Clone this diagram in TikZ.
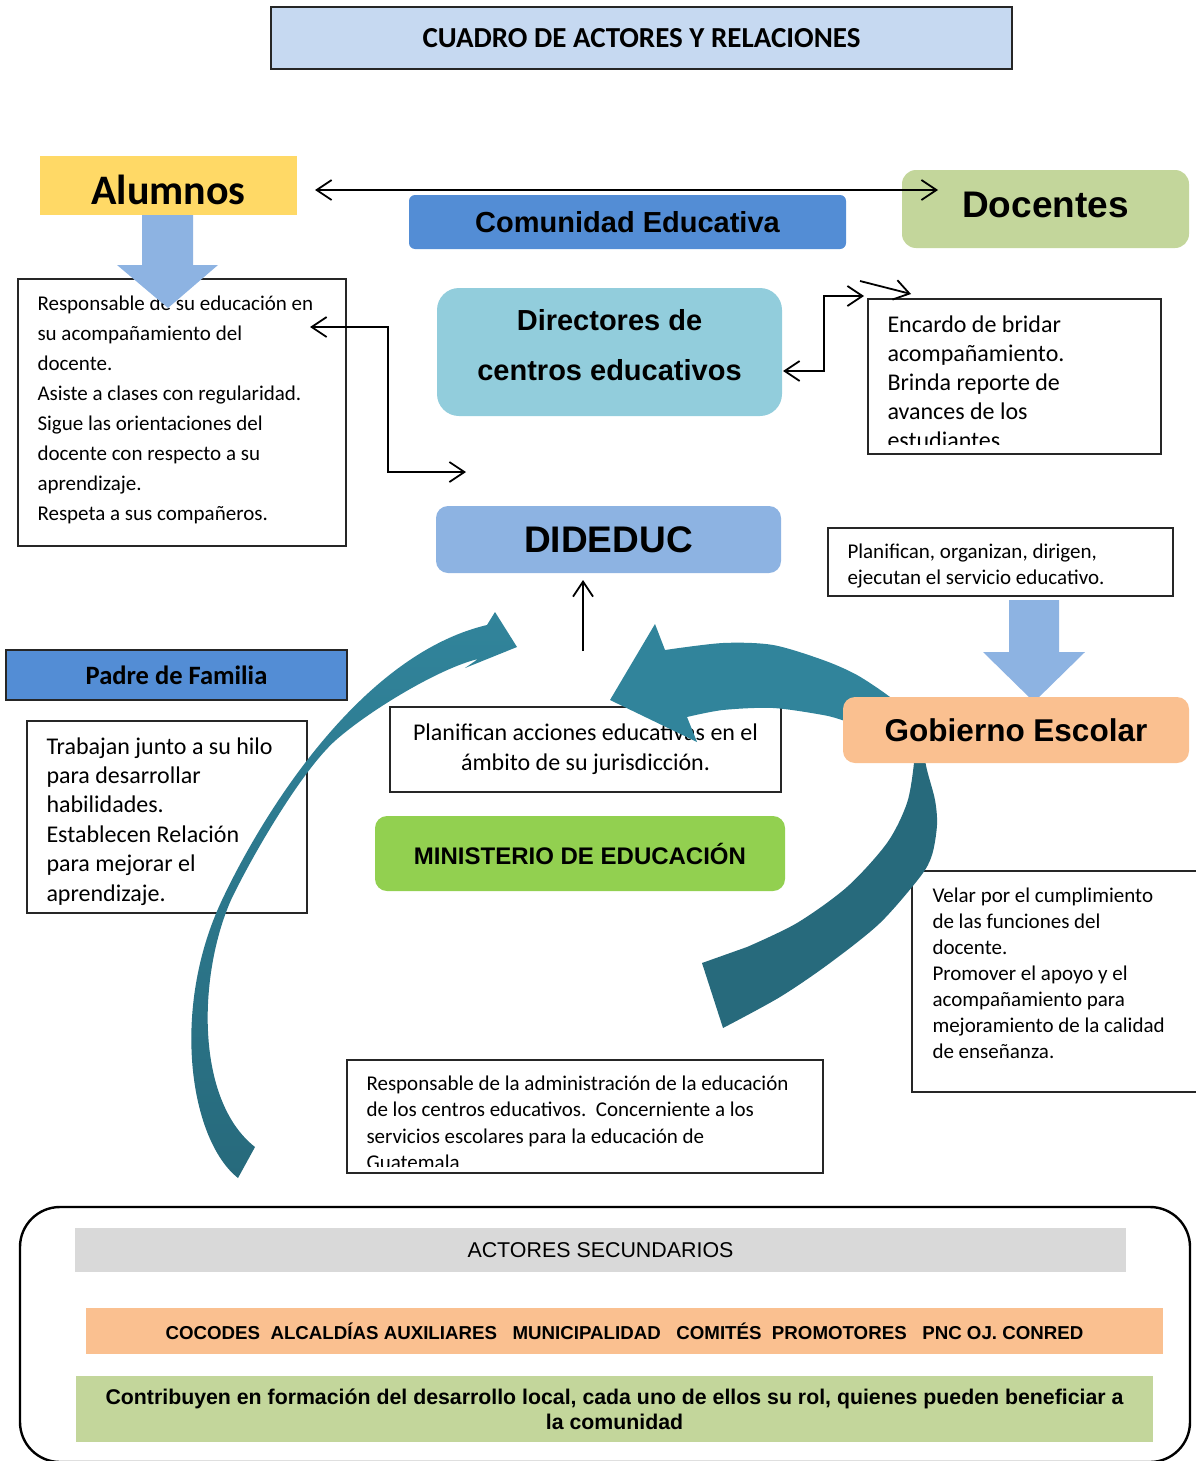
\documentclass[tikz,border=0pt]{standalone}
\usepackage{fontspec}
\setmainfont{Carlito}
\newfontfamily\arialfont{Liberation Sans}
\usetikzlibrary{arrows.meta,positioning}

\definecolor{titlefill}{HTML}{C6D9F1}
\definecolor{alumfill}{HTML}{FFD966}
\definecolor{oliveback}{HTML}{C3D69B}
\definecolor{midblue}{HTML}{538DD5}
\definecolor{aquafill}{HTML}{92CDDC}
\definecolor{paleblue}{HTML}{8DB3E2}
\definecolor{peach}{HTML}{FAC090}
\definecolor{limefill}{HTML}{92D050}
\definecolor{greyfill}{HTML}{D9D9D9}
\definecolor{curvelight}{HTML}{31849B}
\definecolor{curvedark}{HTML}{276A7C}

\newcommand\fsz[2]{\fontsize{#1}{#2}\selectfont}

\begin{document}
\begin{tikzpicture}[x=1pt,y=-1pt,>={Straight Barb[length=15pt,width=20pt]},
    actor/.style={inner sep=0pt,align=center},
    round actor/.style={actor,rounded corners=12pt},
    txt box/.style={draw=black!85,line width=1.4pt,inner sep=0pt},
    txt/.style={inner sep=0pt,align=left},
    conn/.style={line width=1.8pt},
    block arrow/.style={fill=paleblue}]
\useasboundingbox (0,0) rectangle (1196,1461);

% cabecera
\node[actor,fill=titlefill,draw=black!85,line width=1.4pt,minimum width=741pt,minimum height=62pt,font=\fsz{29}{34}\bfseries] (title) at (641.5,38) {CUADRO DE ACTORES Y RELACIONES};

% actores principales
\node[actor,fill=alumfill,minimum width=257pt,minimum height=59pt,font=\fsz{42}{50}\bfseries] (alum) at (168.5,185.5) {\rule{0pt}{39pt}Alumnos};
\node[round actor,rounded corners=14pt,fill=oliveback,minimum width=287pt,minimum height=78pt,font=\arialfont\bfseries\fsz{37}{44}] (doc) at (1045.5,209) {Docentes\rule[-8pt]{0pt}{8pt}};
\node[round actor,rounded corners=6pt,fill=midblue,minimum width=437pt,minimum height=54pt,font=\arialfont\bfseries\fsz{29}{34}] (comu) at (627.5,222) {Comunidad Educativa};
\node[round actor,rounded corners=22pt,fill=aquafill,minimum width=345pt,minimum height=128pt,font=\arialfont\bfseries\fsz{29}{50}] (dir) at (609.5,352) {Directores de\\centros educativos\rule[-14pt]{0pt}{14pt}};
\node[round actor,fill=paleblue,minimum width=345pt,minimum height=67pt,font=\arialfont\bfseries\fsz{37}{44}] (dided) at (608.5,539.5) {DIDEDUC};

% cuadros de texto
\node[txt box,minimum width=328pt,minimum height=267pt] (alumbox) at (182,412.5) {};
\node[txt,font=\fsz{21}{30},below right=17pt and 20pt of alumbox.north west] (alumtxt) {Responsable de su educación en\\su acompañamiento del\\docente.\\Asiste a clases con regularidad.\\Sigue las orientaciones del\\docente con respecto a su\\aprendizaje.\\Respeta a sus compañeros.};

\node[txt box,minimum width=293pt,minimum height=155pt] (encbox) at (1014.5,376.5) {};
\begin{scope}
  \clip (869,300) rectangle (1160,444);
  \node[txt,font=\fsz{24}{29},below right=17pt and 20pt of encbox.north west] (enctxt) {Encardo de bridar\\acompañamiento.\\Brinda reporte de\\avances de los\\estudiantes};
\end{scope}

\node[txt box,minimum width=345pt,minimum height=68pt] (planbox) at (1000.5,562) {};
\node[txt,font=\fsz{21}{26},below right=16pt and 20pt of planbox.north west] (plantxt) {Planifican, organizan, dirigen,\\ejecutan el servicio educativo.};

\node[actor,fill=midblue,draw=black!85,line width=1.4pt,minimum width=341pt,minimum height=50pt,font=\fsz{26.5}{30}\bfseries] (padre) at (176.5,675) {Padre de Familia};
\node[txt box,minimum width=280pt,minimum height=192pt] (padrebox) at (167,817) {};
\node[txt,font=\fsz{24}{29.4},below right=17pt and 20pt of padrebox.north west] (padretxt) {Trabajan junto a su hilo\\para desarrollar\\habilidades.\\Establecen Relación\\para mejorar el\\aprendizaje.};

\node[txt box,align=center,minimum width=391pt,minimum height=85pt,font=\fsz{24}{30}] (accbox) at (585.5,749.5) {Planifican acciones educativas en el\\ámbito de su jurisdicción.};

\node[round actor,fill=limefill,minimum width=410pt,minimum height=75pt,font=\arialfont\bfseries\fsz{24}{28}] (mine) at (580,853.5) {MINISTERIO DE EDUCACIÓN};

\node[txt box,minimum width=300pt,minimum height=221pt] (velarbox) at (1062,981.5) {};
\node[txt,font=\fsz{21}{26},below right=17pt and 21pt of velarbox.north west] (velartxt) {Velar por el cumplimiento\\de las funciones del\\docente.\\Promover el apoyo y el\\acompañamiento para\\mejoramiento de la calidad\\de enseñanza.};

\node[txt box,minimum width=476pt,minimum height=113pt] (adminbox) at (585,1116.5) {};
\begin{scope}
  \clip (348,1061) rectangle (822,1166);
  \node[txt,font=\fsz{21}{26.3},below right=16.5pt and 20pt of adminbox.north west] (admintxt) {Responsable de la administración de la educación\\de los centros educativos.\ \ Concerniente a los\\servicios escolares para la educación de\\Guatemala};
\end{scope}

% actores secundarios
\node[draw=black,line width=2.4pt,rounded corners=40pt,minimum width=1170pt,minimum height=255pt] (sec) at (605,1334.5) {};
\node[actor,fill=greyfill,minimum width=1051pt,minimum height=44pt,font=\arialfont\fsz{21.4}{25}] (secttl) at (600.5,1250) {ACTORES SECUNDARIOS};
\node[actor,fill=peach,minimum width=1077pt,minimum height=46pt,font=\arialfont\bfseries\fsz{18.7}{22}] (seclist) at (624.5,1331) {COCODES\ \ ALCALDÍAS AUXILIARES\ \ \ MUNICIPALIDAD\ \ \ COMITÉS\ \ PROMOTORES\ \ \ PNC OJ. CONRED};
\node[actor,fill=oliveback,minimum width=1077pt,minimum height=66pt,font=\arialfont\bfseries\fsz{21.3}{25}] (secrole) at (614.5,1409) {Contribuyen en formación del desarrollo local, cada uno de ellos su rol, quienes pueden beneficiar a\\la comunidad};

% flechas de bloque
\fill[block arrow] (142,215) -- (193,215) -- (193,265) -- (218,265) -- (168,308) -- (117,265) -- (142,265) -- cycle;
\fill[block arrow] (1009,600) -- (1059,600) -- (1059,652) -- (1085,652) -- (1034,702) -- (983,652) -- (1009,652) -- cycle;

% flechas curvas
\shade[top color=curvelight,bottom color=curvedark]
  (238,1178) .. controls (190,1140) and (170,1010) .. (222,900)
  .. controls (262,815) and (360,655) .. (487,625)
  -- (495,612) -- (517,647) -- (465,668) -- (478,659)
  .. controls (440,668) and (370,710) .. (336,740)
  .. controls (304,768) and (255,850) .. (231,900)
  .. controls (198,975) and (195,1100) .. (255,1147)
  -- cycle;
\fill[curvelight]
  plot[smooth] coordinates {(905,712) (890,697) (857,675) (823,660) (773,645) (723,643) (665,650)}
  -- (655,624) -- (610,700) -- (697,742) --
  plot[smooth] coordinates {(687,717) (723,710) (773,708) (823,715) (845,721) (870,730)}
  -- cycle;
\fill[curvedark]
  plot[smooth] coordinates {(922,745) (927,770) (935,800) (937,825) (932,855) (920,877) (880,923) (830,963) (780,997) (723,1028)}
  -- (702,963) --
  plot[smooth] coordinates {(747,947) (797,923) (847,887) (887,843) (907,803) (914,763) (914,745)}
  -- cycle;

\node[round actor,fill=peach,minimum width=346pt,minimum height=66pt,font=\arialfont\bfseries\fsz{31.5}{36}] (gob) at (1016,730) {Gobierno Escolar};

% conectores
\coordinate (alumR) at (315,190);
\coordinate (docL) at (938,190);
\coordinate (alumA) at (310,327);
\coordinate (alumB) at (466,472);
\coordinate (dirA) at (783,371);
\coordinate (encA) at (864,296);
\coordinate (strayA) at (860,281);
\coordinate (encB) at (911,294);
\coordinate (mineUp) at (583,651);
\coordinate (didedB) at (583,580);

\draw[conn,<->] (alumR) -- (docL);
\draw[conn,<->] (alumA) -- ++(78,0) |- (alumB);
\draw[conn,<->] (dirA) -- ++(41,0) |- (encA);
\draw[conn,->] (strayA) -- (encB);
\draw[conn,->] (mineUp) -- (didedB);
\end{tikzpicture}
\end{document}
